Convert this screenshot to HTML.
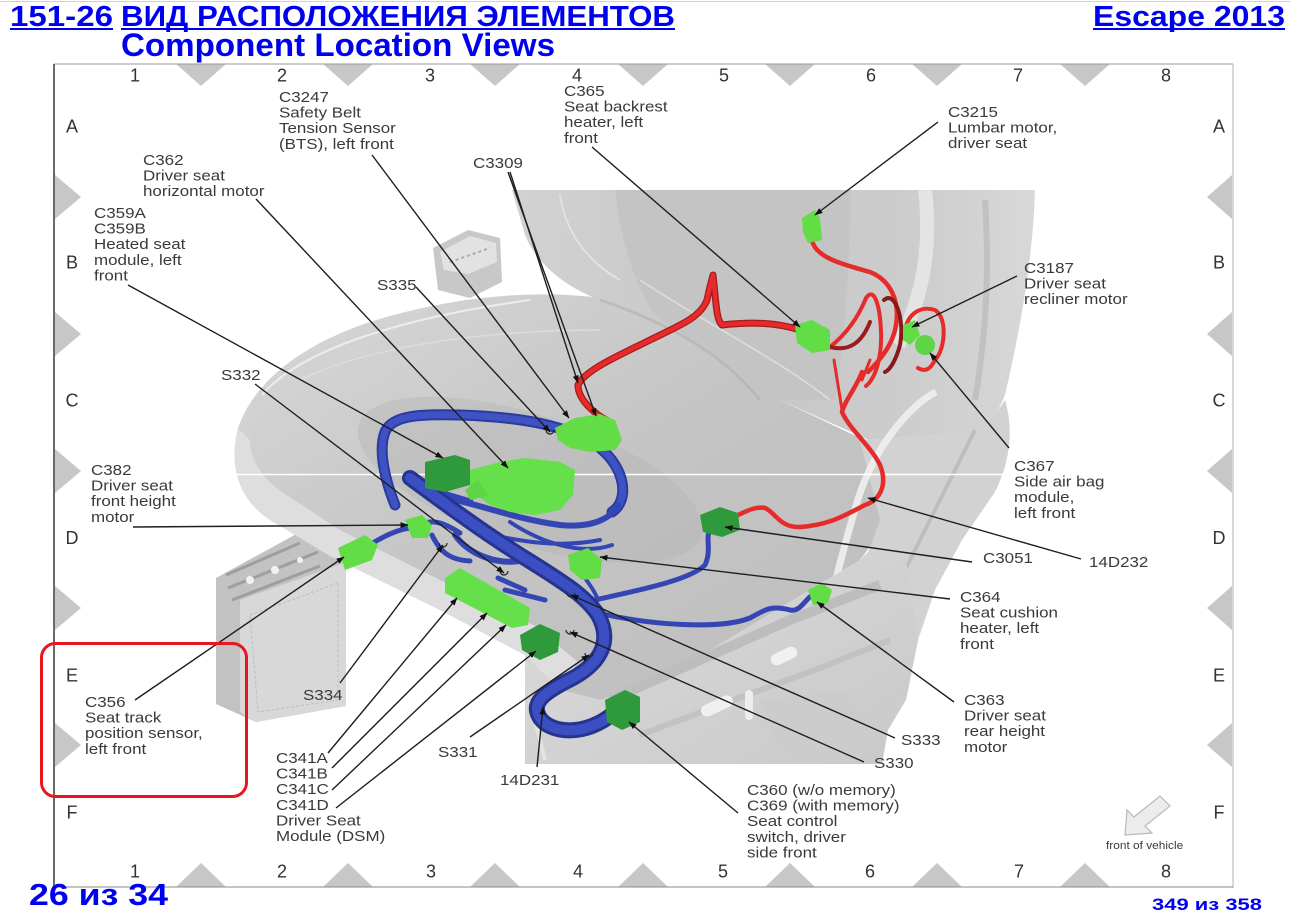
<!DOCTYPE html>
<html><head><meta charset="utf-8"><style>
html,body{margin:0;padding:0;background:#fff;}
svg{display:block;}
.lb{font-family:"Liberation Sans",Arial,sans-serif;font-size:15px;fill:#3a3a3a;}
.gr{font-family:"Liberation Sans",Arial,sans-serif;font-size:18px;fill:#333;}
.hd{font-family:"Liberation Sans","Noto Sans CJK SC",Arial,sans-serif;font-weight:bold;fill:#0000f0;}
</style></head><body>
<svg width="1290" height="916" viewBox="0 0 1290 916" xmlns="http://www.w3.org/2000/svg">
<defs>
<linearGradient id="gBack" x1="0" y1="0" x2="1" y2="0">
<stop offset="0" stop-color="#d2d2d2"/><stop offset="0.45" stop-color="#c6c6c6"/><stop offset="0.8" stop-color="#cecece"/><stop offset="1" stop-color="#d8d8d8"/></linearGradient>
<linearGradient id="gCush" x1="0" y1="0" x2="1" y2="1">
<stop offset="0" stop-color="#d8d8d8"/><stop offset="0.5" stop-color="#c4c4c4"/><stop offset="1" stop-color="#bebebe"/></linearGradient>
<linearGradient id="gLow" x1="0" y1="0" x2="1" y2="1">
<stop offset="0" stop-color="#dcdcdc"/><stop offset="1" stop-color="#c9c9c9"/></linearGradient>
<marker id="ar" markerWidth="8" markerHeight="6" refX="7.5" refY="3" orient="auto" markerUnits="userSpaceOnUse"><path d="M0,0 L8,3 L0,6 z" fill="#111"/></marker>
</defs>

<line x1="0" y1="1.5" x2="1290" y2="1.5" stroke="#d0d0d0" stroke-width="1"/>

<!-- header -->
<text class="hd" x="10" y="26" font-size="29" textLength="103" lengthAdjust="spacingAndGlyphs">151-26</text>
<text class="hd" x="121" y="26" font-size="29" textLength="554" lengthAdjust="spacingAndGlyphs">ВИД РАСПОЛОЖЕНИЯ ЭЛЕМЕНТОВ</text>
<text class="hd" x="1093" y="26" font-size="29" textLength="192" lengthAdjust="spacingAndGlyphs">Escape 2013</text>
<rect x="10" y="28" width="103" height="2" fill="#0000f0"/>
<rect x="121" y="28" width="554" height="2" fill="#0000f0"/>
<rect x="1093" y="28" width="192" height="2" fill="#0000f0"/>
<text class="hd" x="121" y="56" font-size="32" textLength="434" lengthAdjust="spacingAndGlyphs">Component Location Views</text>

<!-- left slider bracket -->
<path d="M216,578 L300,532 L346,548 L346,706 L256,722 L216,704 Z" fill="#c2c2c2"/>
<path d="M240,600 L346,562 L346,706 L256,722 L240,712 Z" fill="#d8d8d8"/>
<path d="M250,615 L338,583 L338,700 L258,712 Z" fill="none" stroke="#bdbdbd" stroke-width="1" stroke-dasharray="3,2"/>
<path d="M226,575 L300,543 M228,588 L318,552 M232,600 L320,566" stroke="#9e9e9e" stroke-width="3"/>
<circle cx="250" cy="580" r="4" fill="#f2f2f2"/><circle cx="275" cy="570" r="4" fill="#f2f2f2"/><circle cx="300" cy="560" r="3" fill="#f2f2f2"/>

<!-- backrest -->
<path d="M512,190 L1035,190 C1033,260 1020,330 1005,395 L985,440 L880,445 L780,400 L660,330 L600,300 C560,285 535,260 525,235 Z" fill="url(#gBack)"/>
<path d="M615,190 L850,190 C850,260 845,330 835,400 L770,400 L665,330 C640,300 622,250 615,190 Z" fill="#c4c4c4"/>
<path d="M925,190 C932,250 922,300 898,345" stroke="#e8e8e8" stroke-width="14" fill="none" opacity="0.85"/>
<path d="M560,195 C565,230 585,260 620,280" stroke="#e2e2e2" stroke-width="2" fill="none"/>
<path d="M640,280 C700,320 780,360 830,400" stroke="#dedede" stroke-width="1.5" fill="none"/>
<path d="M985,200 C990,280 985,340 975,400" stroke="#b5b5b5" stroke-width="6" fill="none" opacity="0.6"/>

<!-- seat belt buckle -->
<path d="M433,248 L468,230 L500,238 L502,282 L470,298 L438,290 Z" fill="#c8c8c8"/>
<path d="M440,252 L470,236 L496,243 L497,262 L468,274 L444,270 Z" fill="#e2e2e2"/>
<path d="M450,262 L490,248" stroke="#aaa" stroke-width="2" stroke-dasharray="3,3"/>

<!-- cushion -->
<path d="M640,305 C560,286 470,294 390,316 C310,338 255,378 238,428 C228,468 240,500 270,520 L330,556 L440,610 L525,655 L560,690 L600,700 L660,680 L760,620 L860,560 L905,500 L875,445 L780,400 Z" fill="url(#gCush)"/>
<path d="M238,428 C228,468 240,500 270,520 L330,556 L440,610 L525,655 L560,690 L578,662 L535,626 L450,585 L340,530 L288,496 C262,480 250,460 250,440 Z" fill="#dedede"/>
<path d="M262,395 C300,350 400,318 530,300" stroke="#ececec" stroke-width="2" fill="none"/>
<path d="M300,380 C360,350 470,330 600,330" stroke="#dcdcdc" stroke-width="1.5" fill="none"/>
<ellipse cx="530" cy="480" rx="180" ry="65" transform="rotate(18 530 480)" fill="#b5b5b5" opacity="0.45"/>
<path d="M600,300 C660,320 720,350 760,400" stroke="#b0b0b0" stroke-width="3" fill="none" opacity="0.6"/>

<!-- side frame -->
<path d="M860,440 L985,430 L1005,400 C1014,430 1010,462 995,492 L962,540 L935,590 L918,640 L906,700 L882,722 L822,702 L830,640 L858,580 L880,520 Z" fill="#d2d2d2"/>
<path d="M936,392 C910,405 870,450 854,513 C840,560 828,610 822,650" stroke="#f0f0f0" stroke-width="7" fill="none" opacity="0.9"/>
<path d="M975,430 C955,470 930,520 905,570 C890,610 885,650 885,700" stroke="#bdbdbd" stroke-width="4" fill="none"/>

<!-- lower frame -->
<path d="M525,655 L560,690 L600,700 L660,680 L760,620 L860,560 L900,520 L918,640 L906,700 L888,730 L882,764 L525,764 Z" fill="url(#gLow)"/>
<path d="M610,700 L700,660 L790,620 L880,585" stroke="#bdbdbd" stroke-width="10" fill="none"/>
<path d="M640,735 L720,705 L820,668 L890,640" stroke="#c2c2c2" stroke-width="6" fill="none"/>
<rect x="770" y="650" width="28" height="12" rx="6" fill="#f0f0f0" transform="rotate(-25 784 656)"/>
<rect x="700" y="700" width="34" height="12" rx="6" fill="#f0f0f0" transform="rotate(-25 717 706)"/>
<rect x="745" y="690" width="8" height="30" rx="4" fill="#eeeeee"/>
<path d="M760,700 L850,690 L870,745 L780,755 Z" fill="#cccccc"/>
<path d="M530,700 L545,760" stroke="#e4e4e4" stroke-width="4"/>

<line x1="54" y1="474.5" x2="1233" y2="474.5" stroke="#ffffff" stroke-width="1.5"/>

<!-- red wires -->
<g fill="none" stroke-linecap="round" stroke-linejoin="round">
<path d="M612,423 C595,415 578,400 578,385 C585,370 620,355 650,340 C680,325 700,318 707,300 C710,285 712,280 713,275 C716,300 716,320 722,325 C750,322 775,322 800,330" stroke="#a81a1a" stroke-width="7"/>
<path d="M612,423 C595,415 578,400 578,385 C585,370 620,355 650,340 C680,325 700,318 707,300 C710,285 712,280 713,275 C716,300 716,320 722,325 C750,322 775,322 800,330" stroke="#e62b2b" stroke-width="4.5"/>
<path d="M812,240 C815,258 845,265 870,272 C890,280 900,300 896,325 C893,345 880,360 868,372" stroke="#e62b2b" stroke-width="4.5"/>
<path d="M830,347 C845,335 858,318 866,298 C874,286 880,305 881,332 C882,356 876,378 866,386" stroke="#e62b2b" stroke-width="4"/>
<path d="M830,347 C850,352 862,342 870,322" stroke="#9a1c1c" stroke-width="4"/>
<path d="M884,300 C895,290 905,320 900,345 C896,360 890,370 885,372" stroke="#8a1a1a" stroke-width="4"/>
<path d="M905,335 C905,315 920,305 935,310 C948,318 945,350 935,360 C930,370 925,372 918,368" stroke="#e62b2b" stroke-width="4"/>
<path d="M862,372 C855,390 845,400 842,412 C850,430 870,445 880,465 C888,485 880,500 865,505 C845,515 830,525 800,527 C780,528 775,512 765,508 C755,506 745,512 738,515" stroke="#e62b2b" stroke-width="4.5"/>
<path d="M834,360 L842,410 M870,360 L862,380" stroke="#e62b2b" stroke-width="3"/>
</g>

<!-- blue harness -->
<g fill="none" stroke-linecap="round" stroke-linejoin="round">
<path d="M395,505 C385,480 378,450 385,432 C392,415 420,414 460,415 C520,417 570,425 600,448 C625,468 630,500 612,512" stroke="#2a3a9e" stroke-width="11"/>
<path d="M395,505 C385,480 378,450 385,432 C392,415 420,414 460,415 C520,417 570,425 600,448 C625,468 630,500 612,512" stroke="#3f52c4" stroke-width="7"/>
<path d="M455,500 C480,505 520,520 560,525 C590,528 610,520 618,505" stroke="#3446b4" stroke-width="6"/>
<path d="M480,532 C520,542 560,548 600,540" stroke="#3446b4" stroke-width="4"/>
<path d="M510,522 C540,542 580,556 612,545" stroke="#3446b4" stroke-width="4"/>
<path d="M430,490 L470,502" stroke="#3446b4" stroke-width="7"/>
<path d="M455,535 C470,556 500,566 525,560" stroke="#3446b4" stroke-width="6"/>
<path d="M460,533 C440,520 430,520 420,525" stroke="#3446b4" stroke-width="5"/>
<path d="M410,528 C395,530 380,538 365,548" stroke="#3446b4" stroke-width="5"/>
<path d="M432,535 C440,552 450,560 470,561" stroke="#3446b4" stroke-width="5"/>
<path d="M595,600 C640,590 690,580 705,565 C712,550 705,538 710,530" stroke="#3446b4" stroke-width="5"/>
<path d="M598,613 C650,625 720,630 750,618 C765,610 770,605 790,610 C800,612 805,600 812,595" stroke="#3446b4" stroke-width="5"/>
<path d="M585,578 C590,585 595,592 598,600" stroke="#3446b4" stroke-width="4"/>
<path d="M498,578 L525,590 M505,590 L545,600" stroke="#3446b4" stroke-width="5"/>
<path d="M410,478 C440,500 480,530 520,555 C560,580 585,595 598,615 C612,640 602,662 573,678 C545,692 530,702 540,718 C550,733 585,738 615,712" stroke="#24348f" stroke-width="16"/>
<path d="M410,478 C440,500 480,530 520,555 C560,580 585,595 598,615 C612,640 602,662 573,678 C545,692 530,702 540,718 C550,733 585,738 615,712" stroke="#3c4fc2" stroke-width="10"/>
</g>

<!-- green connectors -->
<g stroke="none">
<path d="M555,428 L575,418 L600,414 L615,420 L622,440 L615,450 L590,452 L570,448 L558,440 Z" fill="#62dd46"/>
<path d="M470,470 L500,462 L525,458 L560,462 L575,470 L573,495 L560,510 L535,515 L510,512 L490,505 L470,490 Z" fill="#66e04a"/>
<path d="M478,480 L465,490 L470,500 L488,496 Z" fill="#5fd444"/>
<path d="M425,462 L455,455 L470,460 L470,485 L445,492 L425,488 Z" fill="#2f9a3c"/>
<path d="M405,520 L422,515 L432,525 L428,538 L412,538 Z" fill="#62dd46"/>
<path d="M338,548 L365,535 L378,545 L372,560 L345,570 Z" fill="#62dd46"/>
<path d="M445,578 L460,568 L530,608 L528,625 L512,628 L445,593 Z" fill="#66e04a"/>
<path d="M568,555 L588,548 L602,560 L600,578 L582,580 L570,570 Z" fill="#62dd46"/>
<path d="M700,515 L720,507 L738,513 L740,530 L722,537 L703,532 Z" fill="#2f9a3c"/>
<path d="M808,590 L822,583 L832,590 L828,603 L813,605 Z" fill="#62dd46"/>
<path d="M605,700 L625,690 L640,697 L640,722 L622,730 L607,722 Z" fill="#2f9a3c"/>
<path d="M520,635 L540,624 L560,633 L558,652 L540,660 L522,650 Z" fill="#2f9a3c"/>
<path d="M795,325 L812,320 L830,330 L830,350 L812,353 L797,343 Z" fill="#62dd46"/>
<path d="M802,218 L815,210 L820,218 L822,240 L808,243 L803,232 Z" fill="#62dd46"/>
<path d="M903,325 L915,320 L920,335 L910,345 L903,340 Z" fill="#62dd46"/>
<circle cx="925" cy="345" r="10" fill="#5fd444"/>
</g>

<g fill="none" stroke="#222" stroke-width="1.2">
<path d="M546,430 a4,4 0 1,0 8,0"/><path d="M439,543 a4,4 0 1,0 8,0"/>
<path d="M500,571 a4,4 0 1,0 8,0"/><path d="M567,593 a4,4 0 1,0 8,0"/>
<path d="M566,630 a4,4 0 1,0 8,0"/><path d="M585,653 a4,4 0 1,0 8,0"/>
</g>

<!-- leader lines -->
<g stroke="#1e1e1e" stroke-width="1.4" fill="none" marker-end="url(#ar)">
<line x1="372" y1="155" x2="569" y2="418"/>
<line x1="256" y1="199" x2="508" y2="468"/>
<line x1="128" y1="285" x2="443" y2="458"/>
<line x1="416" y1="287" x2="550" y2="432"/>
<line x1="508" y1="172" x2="596" y2="416"/>
<line x1="510" y1="172" x2="578" y2="383"/>
<line x1="592" y1="147" x2="800" y2="327"/>
<line x1="938" y1="122" x2="815" y2="215"/>
<line x1="1017" y1="276" x2="912" y2="327"/>
<line x1="1009" y1="448" x2="930" y2="353"/>
<line x1="1081" y1="559" x2="868" y2="498"/>
<line x1="972" y1="562" x2="725" y2="527"/>
<line x1="950" y1="599" x2="600" y2="557"/>
<line x1="954" y1="702" x2="817" y2="602"/>
<line x1="895" y1="738" x2="571" y2="595"/>
<line x1="864" y1="762" x2="570" y2="632"/>
<line x1="738" y1="813" x2="629" y2="722"/>
<line x1="537" y1="767" x2="543" y2="707"/>
<line x1="470" y1="737" x2="589" y2="655"/>
<line x1="328" y1="753" x2="457" y2="598"/>
<line x1="332" y1="768" x2="487" y2="613"/>
<line x1="332" y1="790" x2="506" y2="625"/>
<line x1="336" y1="808" x2="536" y2="651"/>
<line x1="340" y1="683" x2="443" y2="545"/>
<line x1="135" y1="700" x2="344" y2="557"/>
<line x1="133" y1="527" x2="408" y2="525"/>
<line x1="255" y1="384" x2="504" y2="573"/>
</g>

<!-- grid triangles -->
<g fill="#c7c7c7">
<path d="M176,64 L226,64 L201,86 Z"/><path d="M323,64 L373,64 L348,86 Z"/><path d="M470,64 L520,64 L495,86 Z"/>
<path d="M618,64 L668,64 L643,86 Z"/><path d="M765,64 L815,64 L790,86 Z"/><path d="M912,64 L962,64 L937,86 Z"/>
<path d="M1060,64 L1110,64 L1085,86 Z"/>
<path d="M176,887 L226,887 L201,863 Z"/><path d="M323,887 L373,887 L348,863 Z"/><path d="M470,887 L520,887 L495,863 Z"/>
<path d="M618,887 L668,887 L643,863 Z"/><path d="M765,887 L815,887 L790,863 Z"/><path d="M912,887 L962,887 L937,863 Z"/>
<path d="M1060,887 L1110,887 L1085,863 Z"/>
<path d="M55,175 L55,219 L81,197 Z"/><path d="M55,312 L55,356 L81,334 Z"/><path d="M55,449 L55,493 L81,471 Z"/>
<path d="M55,586 L55,630 L81,608 Z"/><path d="M55,723 L55,767 L81,745 Z"/>
<path d="M1232,175 L1232,219 L1207,197 Z"/><path d="M1232,312 L1232,356 L1207,334 Z"/><path d="M1232,449 L1232,493 L1207,471 Z"/>
<path d="M1232,586 L1232,630 L1207,608 Z"/><path d="M1232,723 L1232,767 L1207,745 Z"/>
</g>

<!-- frame -->
<line x1="54" y1="64" x2="1233" y2="64" stroke="#9a9a9a" stroke-width="1"/>
<line x1="54" y1="64" x2="54" y2="888" stroke="#6a6a6a" stroke-width="2"/>
<line x1="1233" y1="64" x2="1233" y2="888" stroke="#b0b0b0" stroke-width="1"/>
<line x1="54" y1="887" x2="1233" y2="887" stroke="#8a8a8a" stroke-width="1"/>

<!-- grid labels -->
<g class="gr" text-anchor="middle">
<text x="135" y="81.5">1</text><text x="282" y="81.5">2</text><text x="430" y="81.5">3</text><text x="577" y="81.5">4</text>
<text x="724" y="81.5">5</text><text x="871" y="81.5">6</text><text x="1018" y="81.5">7</text><text x="1166" y="81.5">8</text>
<text x="135" y="877.5">1</text><text x="282" y="877.5">2</text><text x="431" y="877.5">3</text><text x="578" y="877.5">4</text>
<text x="723" y="877.5">5</text><text x="870" y="877.5">6</text><text x="1019" y="877.5">7</text><text x="1166" y="877.5">8</text>
<text x="72" y="132.5">A</text><text x="72" y="268.5">B</text><text x="72" y="406.5">C</text><text x="72" y="544">D</text><text x="72" y="681.5">E</text><text x="72" y="818.5">F</text>
<text x="1219" y="132.5">A</text><text x="1219" y="268.5">B</text><text x="1219" y="406.5">C</text><text x="1219" y="544">D</text><text x="1219" y="681.5">E</text><text x="1219" y="818.5">F</text>
</g>

<!-- component labels -->
<g class="lb">
<text transform="translate(279,102) scale(1.13,1)"><tspan x="0">C3247</tspan><tspan x="0" dy="15.6">Safety Belt</tspan><tspan x="0" dy="15.6">Tension Sensor</tspan><tspan x="0" dy="15.6">(BTS), left front</tspan></text>
<text transform="translate(143,165) scale(1.13,1)"><tspan x="0">C362</tspan><tspan x="0" dy="15.6">Driver seat</tspan><tspan x="0" dy="15.6">horizontal motor</tspan></text>
<text transform="translate(94,218) scale(1.13,1)"><tspan x="0">C359A</tspan><tspan x="0" dy="15.6">C359B</tspan><tspan x="0" dy="15.6">Heated seat</tspan><tspan x="0" dy="15.6">module, left</tspan><tspan x="0" dy="15.6">front</tspan></text>
<text transform="translate(377,290) scale(1.13,1)">S335</text>
<text transform="translate(221,380) scale(1.13,1)">S332</text>
<text transform="translate(473,168) scale(1.13,1)">C3309</text>
<text transform="translate(564,96) scale(1.13,1)"><tspan x="0">C365</tspan><tspan x="0" dy="15.6">Seat backrest</tspan><tspan x="0" dy="15.6">heater, left</tspan><tspan x="0" dy="15.6">front</tspan></text>
<text transform="translate(948,117) scale(1.13,1)"><tspan x="0">C3215</tspan><tspan x="0" dy="15.6">Lumbar motor,</tspan><tspan x="0" dy="15.6">driver seat</tspan></text>
<text transform="translate(1024,273) scale(1.13,1)"><tspan x="0">C3187</tspan><tspan x="0" dy="15.6">Driver seat</tspan><tspan x="0" dy="15.6">recliner motor</tspan></text>
<text transform="translate(1014,471) scale(1.13,1)"><tspan x="0">C367</tspan><tspan x="0" dy="15.6">Side air bag</tspan><tspan x="0" dy="15.6">module,</tspan><tspan x="0" dy="15.6">left front</tspan></text>
<text transform="translate(91,475) scale(1.13,1)"><tspan x="0">C382</tspan><tspan x="0" dy="15.6">Driver seat</tspan><tspan x="0" dy="15.6">front height</tspan><tspan x="0" dy="15.6">motor</tspan></text>
<text transform="translate(983,563) scale(1.13,1)">C3051</text>
<text transform="translate(1089,567) scale(1.13,1)">14D232</text>
<text transform="translate(960,602) scale(1.13,1)"><tspan x="0">C364</tspan><tspan x="0" dy="15.6">Seat cushion</tspan><tspan x="0" dy="15.6">heater, left</tspan><tspan x="0" dy="15.6">front</tspan></text>
<text transform="translate(85,707) scale(1.13,1)"><tspan x="0">C356</tspan><tspan x="0" dy="15.6">Seat track</tspan><tspan x="0" dy="15.6">position sensor,</tspan><tspan x="0" dy="15.6">left front</tspan></text>
<text transform="translate(303,700) scale(1.13,1)">S334</text>
<text transform="translate(276,763) scale(1.13,1)"><tspan x="0">C341A</tspan><tspan x="0" dy="15.6">C341B</tspan><tspan x="0" dy="15.6">C341C</tspan><tspan x="0" dy="15.6">C341D</tspan><tspan x="0" dy="15.6">Driver Seat</tspan><tspan x="0" dy="15.6">Module (DSM)</tspan></text>
<text transform="translate(438,757) scale(1.13,1)">S331</text>
<text transform="translate(500,785) scale(1.13,1)">14D231</text>
<text transform="translate(964,705) scale(1.13,1)"><tspan x="0">C363</tspan><tspan x="0" dy="15.6">Driver seat</tspan><tspan x="0" dy="15.6">rear height</tspan><tspan x="0" dy="15.6">motor</tspan></text>
<text transform="translate(901,745) scale(1.13,1)">S333</text>
<text transform="translate(874,768) scale(1.13,1)">S330</text>
<text transform="translate(747,795) scale(1.13,1)"><tspan x="0">C360 (w/o memory)</tspan><tspan x="0" dy="15.6">C369 (with memory)</tspan><tspan x="0" dy="15.6">Seat control</tspan><tspan x="0" dy="15.6">switch, driver</tspan><tspan x="0" dy="15.6">side front</tspan></text>
<text transform="translate(1106,849) scale(1.08,1)" font-size="11">front of vehicle</text>
</g>

<path d="M1160,796 L1170,806 L1145,826 L1152,833 L1125,835 L1127,810 L1134,817 Z" fill="#ececec" stroke="#b8b8b8" stroke-width="1.2"/>

<rect x="41.5" y="643.5" width="205" height="153" rx="14" ry="14" fill="none" stroke="#e8161e" stroke-width="3"/>

<!-- footer -->
<text class="hd" x="29" y="905" font-size="31" textLength="139" lengthAdjust="spacingAndGlyphs">26 из 34</text>
<text class="hd" x="1152" y="910" font-size="17" textLength="110" lengthAdjust="spacingAndGlyphs">349 из 358</text>
</svg>
</body></html>
